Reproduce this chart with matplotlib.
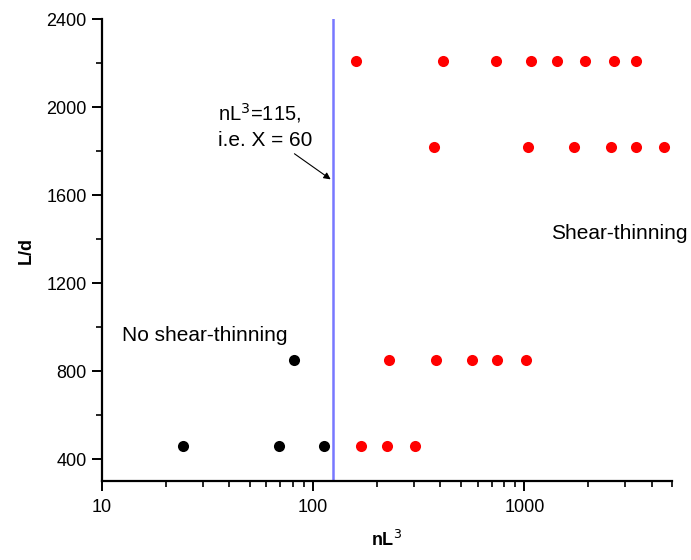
import numpy as np
import matplotlib.pyplot as plt
from matplotlib.ticker import LogLocator, NullFormatter, MultipleLocator

plt.rcParams['font.family'] = ['Liberation Sans', 'DejaVu Sans']

# no shear-thinning (black)
black_x = [24.3, 68.5, 112.7, 81.5]
black_y = [460, 460, 460, 850]

# shear-thinning (red), one row per L/d
red_x_460 = [169, 223, 302]
red_x_850 = [229, 383, 565, 743, 1012]
red_x_1820 = [372, 1045, 1718, 2557, 3383, 4590]
red_x_2210 = [159, 410, 736, 1079, 1428, 1931, 2660, 3380]
red_rows = [(red_x_460, 460), (red_x_850, 850), (red_x_1820, 1820), (red_x_2210, 2210)]

line_x = 124

fig = plt.figure(figsize=(6.91, 5.6), dpi=100)
ax = fig.add_axes([0.1476, 0.141, 0.825, 0.825])

ax.plot(black_x, black_y, 'o', color='black', ms=8, mec='none')
for xs, yv in red_rows:
    ax.plot(xs, [yv]*len(xs), 'o', color='red', ms=8, mec='none')

ax.axvline(line_x, color='#7878ff', lw=1.8)

ax.set_xscale('log')
ax.set_xlim(10, 5000)
ax.set_ylim(300, 2400)
ax.yaxis.set_major_locator(MultipleLocator(400))
ax.yaxis.set_minor_locator(MultipleLocator(200))
ax.set_yticks(np.arange(400, 2401, 400))
ax.xaxis.set_minor_locator(LogLocator(base=10, subs=np.arange(2, 10)))
ax.xaxis.set_minor_formatter(NullFormatter())
ax.set_xticks([10, 100, 1000])
ax.set_xticklabels(['10', '100', '1000'])

for s in ['top', 'right']:
    ax.spines[s].set_visible(False)
for s in ['left', 'bottom']:
    ax.spines[s].set_linewidth(1.6)
ax.tick_params(which='major', direction='out', length=7, width=1.4, labelsize=13, colors='black', pad=4)
ax.tick_params(which='minor', direction='out', length=4, width=1.2)
ax.tick_params(axis='x', which='major', pad=6)

ax.set_xlabel('nL$^3$', fontsize=13, fontweight='bold', labelpad=10)
ax.set_ylabel('L/d', fontsize=13, fontweight='bold', labelpad=8)

ax.text(12.5, 960, 'No shear-thinning', fontsize=15, va='center', ha='left')
ax.text(1343, 1427, 'Shear-thinning', fontsize=15, va='center', ha='left')
ax.text(35.5, 1973, 'nL$^3$=115,', fontsize=14.5, va='center', ha='left')
ax.text(35.5, 1850, 'i.e. X = 60', fontsize=15, va='center', ha='left')
ax.annotate('', xy=(line_x, 1664), xytext=(79.5, 1795),
            arrowprops=dict(arrowstyle='-|>', color='black', lw=0.8, mutation_scale=10))

fig.savefig('out.png', dpi=100)
